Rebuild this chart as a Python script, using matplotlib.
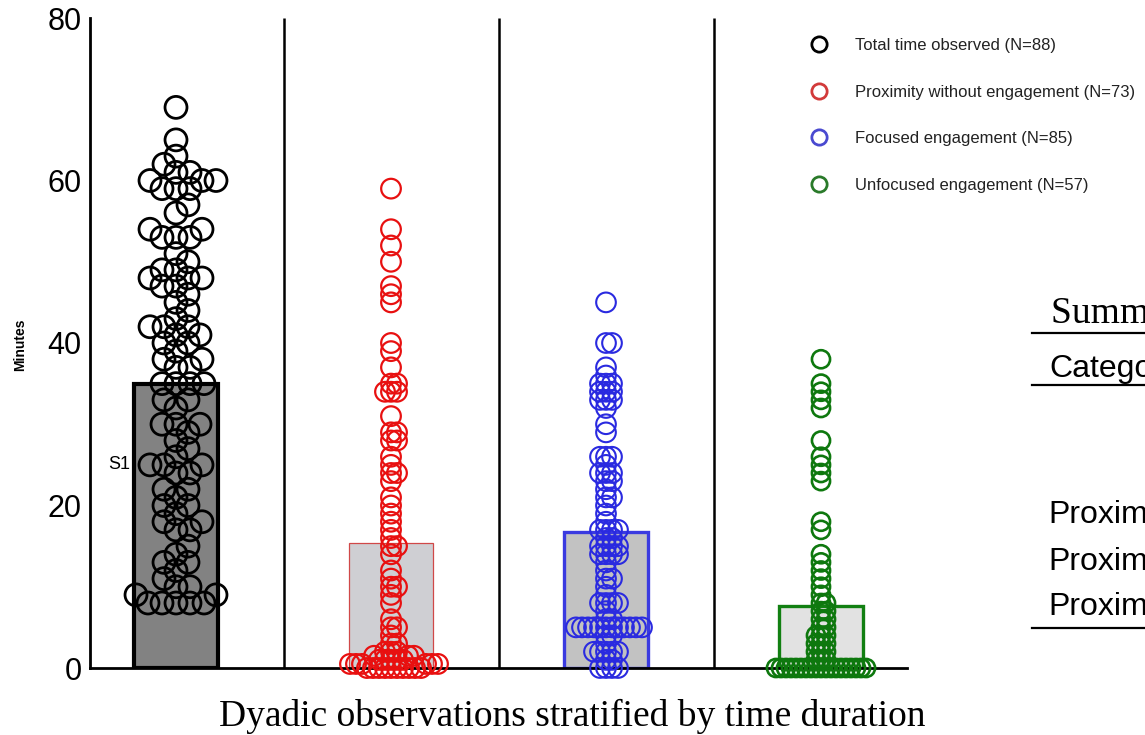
import numpy as np
import matplotlib.pyplot as plt
from matplotlib.lines import Line2D

plt.rcParams['font.family'] = ['Liberation Sans', 'DejaVu Sans']

# data (minutes per dyad)
labels = ["Total time observed (N=88)",
          "Proximity without engagement (N=73)",
          "Focused engagement (N=85)",
          "Unfocused engagement (N=57)"]
bar_means = [35.0, 15.4, 16.7, 7.6]

total_time = [69, 65, 63, 62, 61, 61, 60, 60, 60, 59, 59, 59, 57, 56, 54, 54, 53, 53, 53,
              51, 50, 49, 49, 48, 48, 48, 47, 47, 46, 45, 44, 43, 42, 42, 42, 41, 41,
              40, 40, 39, 38, 38, 37, 37, 35, 35, 35, 35, 33, 33, 32, 30, 30, 30, 29,
              28, 27, 26, 25, 25, 25, 24, 24, 22, 22, 21, 20, 20, 19, 18, 18, 17, 17,
              15, 14, 13, 13, 12, 11, 10, 10, 9, 9, 8, 8, 8, 8, 8]
proximity = [59, 54, 52, 50, 47, 46, 45, 40, 39, 37, 35, 35, 34, 34, 34, 31, 29, 29, 28,
             28, 26, 25, 24, 24, 23, 21, 20, 19, 18, 17, 16, 15, 15, 14, 12, 11, 10, 10,
             9, 8, 6, 5, 5, 4, 3, 3, 2, 2, 2, 1.5, 1.5, 1.5, 1, 1, 1, 1, 1,
             0.5, 0.5, 0.5, 0.5, 0.5, 0.5, 0, 0, 0, 0, 0, 0, 0, 0, 0, 0]
focused = [45, 40, 40, 37, 36, 35, 35, 35, 34, 34, 34, 33, 33, 33, 32, 30, 29, 26, 26, 26,
           25, 24, 24, 24, 23, 23, 22, 21, 21, 20, 19, 18, 17, 17, 17, 17, 16, 16, 15, 15,
           15, 15, 14, 14, 14, 14, 13, 12, 11, 11, 10, 9, 8, 8, 8, 8, 7, 6, 6, 5,
           5, 5, 5, 5, 5, 5, 5, 5, 5, 5, 5, 4, 4, 3, 2, 2, 2, 2, 2, 1, 1, 0, 0, 0, 0]
unfocused = [38, 35, 34, 33, 32, 28, 26, 25, 24, 23, 18, 17, 14, 13, 12, 11, 10, 9, 8, 8,
             7, 7, 6, 6, 5, 5, 4, 4, 4, 3, 3, 3, 2, 2, 2, 1, 1, 1,
             0, 0, 0, 0, 0, 0, 0, 0, 0, 0, 0, 0, 0, 0, 0, 0, 0, 0, 0]
groups = [total_time, proximity, focused, unfocused]

point_colors = ["black", "#e81010", "#2a2ae0", "#0e780e"]
legend_colors = ["black", "#d23a3a", "#4a4ad0", "#2a7a2a"]
bar_faces = ["#828282", "#cfcfd3", "#c2c2c2", "#e2e2e2"]
bar_edges = ["black", "#d04848", "#3a3ae0", "#128012"]
bar_lw = [3.0, 0.9, 2.4, 2.4]
marker_s = [250, 200, 200, 170]
marker_lw = [2.0, 1.6, 1.5, 1.9]
gap_px = [14, 6, 6, 4.5]   # how far the dots are pushed apart in each column


def swarm(vals, sep, step=1.0):
    # simple beeswarm, in pixels: returns x offsets
    ys = np.asarray(vals, dtype=float) * px_y
    offs = np.zeros(len(ys))
    done = []
    for i in np.argsort(-ys, kind="stable")[::-1]:
        k = 0
        while True:
            cands = [0.0] if k == 0 else [k * step, -k * step]
            hit = None
            for c in cands:
                if all((c - ox) ** 2 + (ys[i] - oy) ** 2 >= sep ** 2 for ox, oy in done):
                    hit = c
                    break
            if hit is not None:
                break
            k += 1
        offs[i] = hit
        done.append((hit, ys[i]))
    return offs


fig = plt.figure(figsize=(11.45, 7.35), dpi=100)
ax = fig.add_axes([90 / 1145, 67 / 735, 817 / 1145, 650 / 735])
ax.set_xlim(-0.4, 3.4)
ax.set_ylim(0, 80)

p0 = ax.transData.transform((0, 0))
p1 = ax.transData.transform((1, 1))
px_x, px_y = p1 - p0

pos = np.arange(4)
ax.bar(pos, bar_means, width=0.39, color=bar_faces, edgecolor=bar_edges,
       linewidth=bar_lw, zorder=1)

for i, vals in enumerate(groups):
    xs = pos[i] + swarm(vals, gap_px[i]) / px_x
    ax.scatter(xs, vals, s=marker_s[i], facecolors="none", edgecolors=point_colors[i],
               linewidths=marker_lw[i], zorder=3, clip_on=False)

ax.vlines([0.5, 1.5, 2.5], 0, 80, color="black", lw=1.8, zorder=2)

for side in ["top", "right"]:
    ax.spines[side].set_visible(False)
ax.spines["left"].set_linewidth(2.0)
ax.spines["bottom"].set_linewidth(2.0)
ax.set_xticks([])
ax.set_yticks([0, 20, 40, 60, 80])
ax.tick_params(axis="y", length=0, labelsize=22, pad=6)

ax.text(-0.215, 25, "S1", size=13, ha="right", va="center")
fig.text(20 / 1145, 1 - 345 / 735, "Minutes", rotation=90, weight="bold", size=10,
         ha="center", va="center")
fig.text(572 / 1145, 1 - 716 / 735, "Dyadic observations stratified by time duration",
         family="Liberation Serif", size=27, ha="center", va="center")

handles = [Line2D([], [], marker="o", ls="none", mfc="none", mec=c, mew=2.0, ms=11)
           for c in legend_colors]
leg = fig.legend(handles, labels, loc="upper left", bbox_to_anchor=(802 / 1145, 1 - 38 / 735),
                 frameon=False, fontsize=12, labelspacing=1.9, handletextpad=1.2,
                 borderpad=0, borderaxespad=0)
for t in leg.get_texts():
    t.set_color("#222222")

# summary table, cut off at the right edge of the picture
def hline(y):
    fig.add_artist(Line2D([1032 / 1145, 1.0], [1 - y / 735] * 2, color="black", lw=1.6,
                          transform=fig.transFigure))

fig.text(1051 / 1145, 1 - 323 / 735, "Summary statistics", family="Liberation Serif",
         size=27, va="baseline")
hline(333)
fig.text(1049 / 1145, 1 - 377 / 735, "Category", size=23, va="baseline")
hline(385)
for yb in [523, 570, 615]:
    fig.text(1048 / 1145, 1 - yb / 735, "Proximity", size=23, va="baseline")
hline(628)

fig.savefig("out.png", dpi=100)
